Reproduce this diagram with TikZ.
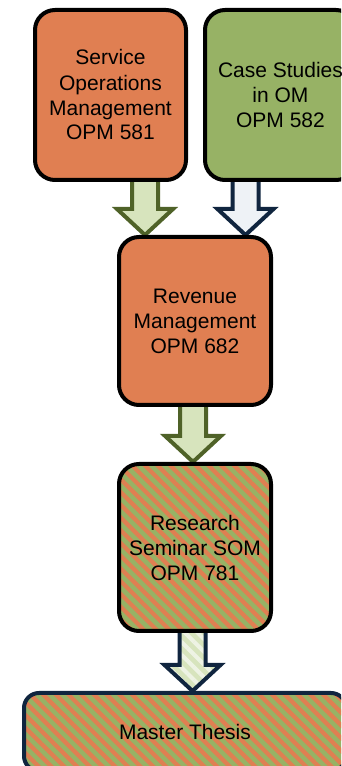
\documentclass[tikz,border=0pt]{standalone}
\usepackage{fontspec}
\setmainfont{Liberation Sans}
\usetikzlibrary{calc,backgrounds,patterns.meta}

\definecolor{courseorange}{RGB}{224,127,82}
\definecolor{casegreen}{RGB}{151,178,101}
\definecolor{arrowfill}{RGB}{215,228,189}
\definecolor{arrowline}{RGB}{79,98,40}
\definecolor{navy}{RGB}{16,37,63}
\definecolor{paleblue}{RGB}{238,242,246}
\definecolor{palestripe}{RGB}{238,243,228}

\tikzset{
  coursebox/.style={draw=black, line width=4pt, rounded corners=20pt, align=center,
    inner sep=0pt, text=black, font=\fontsize{21}{25}\selectfont},
  hatched/.style={preaction={fill=casegreen},
    pattern={Lines[angle=-45,distance=9pt,line width=4.2pt]}, pattern color=courseorange},
  greenarrow/.style={draw=arrowline, fill=arrowfill, line width=4pt},
  bluearrow/.style={draw=navy, fill=paleblue, line width=4pt},
  stripearrow/.style={draw=navy, line width=4pt, preaction={fill=arrowfill},
    pattern={Lines[angle=-45,distance=9pt,line width=4pt]}, pattern color=palestripe}
}

% block arrow: style, x, from node, to node
\newcommand{\blockarrow}[4]{%
  \draw[#1] let \p1=(#3.south), \p2=(#4.north) in
    (#2-13,\y1+4) -- (#2+13,\y1+4) -- (#2+13,\y2+26) -- (#2+28,\y2+26)
    -- (#2,\y2) -- (#2-28,\y2+26) -- (#2-13,\y2+26) -- cycle;}

\begin{document}
\begin{tikzpicture}[x=1pt,y=1pt]
	\useasboundingbox (0,0) rectangle (341,766);
	\clip (0,0) rectangle (341,766);
	\node[coursebox, fill=courseorange, minimum width=151pt, minimum height=170pt] (som) at (110.5,671) {Service\\Operations\\Management\\OPM 581};
	\node[coursebox, fill=casegreen, minimum width=151pt, minimum height=170pt] (cs) at (280.5,671) {Case Studies\\in OM\\OPM 582};
	\node[coursebox, fill=courseorange, minimum width=152pt, minimum height=168pt] (rev) at (195,445) {Revenue\\Management\\OPM 682};
	\node[coursebox, hatched, minimum width=152pt, minimum height=167pt] (rsom) at (195,218.5) {Research\\Seminar SOM\\OPM 781};
	\node[coursebox, hatched, draw=navy, rounded corners=15pt, minimum width=322pt, minimum height=78pt] (thesis) at (185,34) {Master Thesis};
	\begin{scope}[on background layer]
	\blockarrow{greenarrow}{145}{som}{rev}
	\blockarrow{bluearrow}{245.5}{cs}{rev}
	\blockarrow{greenarrow}{193}{rev}{rsom}
	\blockarrow{stripearrow}{192.5}{rsom}{thesis}
	\end{scope}
\end{tikzpicture}
\end{document}
